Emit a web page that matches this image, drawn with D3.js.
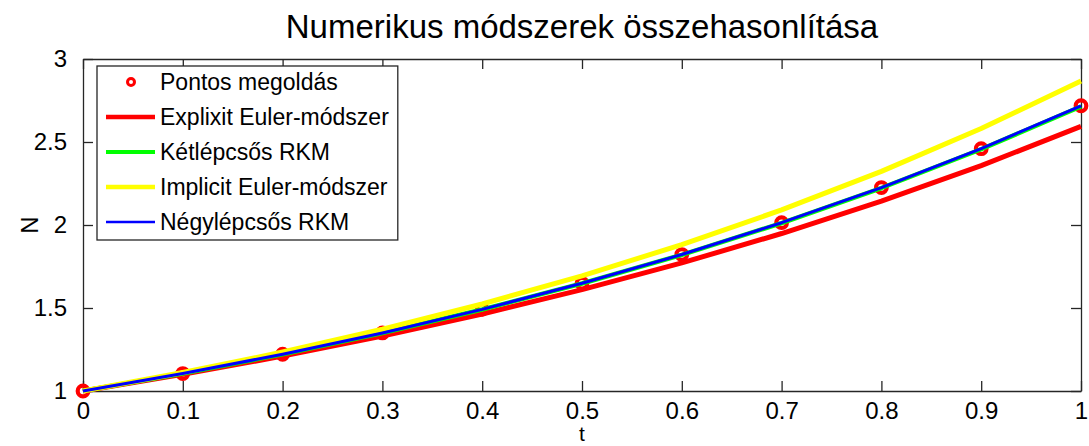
<!DOCTYPE html>
<html>
<head>
<meta charset="utf-8">
<script src="https://cdn.jsdelivr.net/npm/d3@7"></script>
<style>
  body { margin: 0; background: #ffffff; }
  svg text { font-family: "Liberation Sans", Arial, sans-serif; fill: #000000; }
</style>
</head>
<body>
<svg id="CHART" width="1089" height="446"></svg>
<script>
// Data
var tValues = [0, 0.1, 0.2, 0.3, 0.4, 0.5, 0.6, 0.7, 0.8, 0.9, 1];
var exactValues = [1, 1.1052, 1.2214, 1.3499, 1.4918, 1.6487, 1.8221, 2.0138, 2.2255, 2.4596, 2.7183];
var explicitEuler = [1, 1.1, 1.21, 1.331, 1.4641, 1.6105, 1.7716, 1.9487, 2.1436, 2.3579, 2.5937];
var rk2Values = [1, 1.105, 1.221, 1.3492, 1.4909, 1.6474, 1.8204, 2.0116, 2.2228, 2.4562, 2.7141];
var implicitEuler = [1, 1.1111, 1.2346, 1.3717, 1.5242, 1.6935, 1.8817, 2.0908, 2.3231, 2.5812, 2.868];
var rk4Values = [1, 1.1052, 1.2214, 1.3499, 1.4918, 1.6487, 1.8221, 2.0138, 2.2255, 2.4596, 2.7183];

var xTicks = [0, 0.1, 0.2, 0.3, 0.4, 0.5, 0.6, 0.7, 0.8, 0.9, 1];
var xTickLabels = ["0", "0.1", "0.2", "0.3", "0.4", "0.5", "0.6", "0.7", "0.8", "0.9", "1"];
var yTicks = [1, 1.5, 2, 2.5, 3];
var yTickLabels = ["1", "1.5", "2", "2.5", "3"];

var titleText = "Numerikus módszerek összehasonlítása";
var legendNames = ["Pontos megoldás", "Explixit Euler-módszer", "Kétlépcsős RKM", "Implicit Euler-módszer", "Négylépcsős RKM"];

let d3 = window.d3;

var width = 1089,
  height = 446;

const MARGIN = {
  LEFT: 83,
  RIGHT: 8,
  TOP: 59,
  BOTTOM: 55,
};

let svg = d3.select("#CHART");

// Scales
let xScale = d3.scaleLinear()
  .domain([0, 1])
  .range([MARGIN.LEFT, width - MARGIN.RIGHT]);

let yScale = d3.scaleLinear()
  .domain([1, 3])
  .range([height - MARGIN.BOTTOM, MARGIN.TOP]);

var axisColor = "#262626";
var tickLen = 10;

// Axes (bottom / left with labels, top / right ticks only)
let xAxis = d3.axisBottom(xScale)
  .tickValues(xTicks)
  .tickFormat((d, i) => xTickLabels[i])
  .tickSizeInner(-tickLen)
  .tickSizeOuter(0)
  .tickPadding(tickLen + 1);

let gx = svg.append("g")
  .attr("transform", "translate(0," + yScale(1) + ")")
  .call(xAxis);
gx.selectAll("text").style("font-size", "24px");

let yAxis = d3.axisLeft(yScale)
  .tickValues(yTicks)
  .tickFormat((d, i) => yTickLabels[i])
  .tickSizeInner(-tickLen)
  .tickSizeOuter(0)
  .tickPadding(tickLen + 6);

let gy = svg.append("g")
  .attr("transform", "translate(" + xScale(0) + ",0)")
  .call(yAxis);
gy.selectAll("text").style("font-size", "24px");

svg.append("g")
  .attr("transform", "translate(0," + yScale(3) + ")")
  .call(d3.axisTop(xScale).tickValues(xTicks).tickFormat("").tickSizeInner(-tickLen).tickSizeOuter(0));

svg.append("g")
  .attr("transform", "translate(" + xScale(1) + ",0)")
  .call(d3.axisRight(yScale).tickValues(yTicks).tickFormat("").tickSizeInner(-tickLen).tickSizeOuter(0));

svg.selectAll(".domain").style("stroke", axisColor).style("stroke-width", 1.3);
svg.selectAll(".tick line").style("stroke", axisColor).style("stroke-width", 1.3);

// Series
var series = [
  { name: legendNames[1], values: explicitEuler, color: "#ff0000", w: 5 },
  { name: legendNames[2], values: rk2Values, color: "#00ff00", w: 4.5 },
  { name: legendNames[3], values: implicitEuler, color: "#ffff00", w: 5 },
  { name: legendNames[4], values: rk4Values, color: "#0000ff", w: 3 },
];

// Exact solution markers
svg.append("g")
  .selectAll("circle")
  .data(exactValues)
  .enter()
  .append("circle")
  .attr("cx", (d, i) => xScale(tValues[i]))
  .attr("cy", (d) => yScale(d))
  .attr("r", 5.3)
  .attr("fill", "none")
  .attr("stroke", "#ff0000")
  .attr("stroke-width", 4.2);

let line = d3.line()
  .x((d, i) => xScale(tValues[i]))
  .y((d) => yScale(d));

series.forEach(function (s) {
  svg.append("path")
    .datum(s.values)
    .attr("d", line)
    .attr("fill", "none")
    .attr("stroke", s.color)
    .attr("stroke-width", s.w)
    .attr("stroke-linejoin", "round");
});

// Title and axis labels
svg.append("text")
  .attr("x", (xScale(0) + xScale(1)) / 2)
  .attr("y", 38)
  .style("text-anchor", "middle")
  .style("font-size", "33px")
  .text(titleText);

svg.append("text")
  .attr("x", (xScale(0) + xScale(1)) / 2)
  .attr("y", 441)
  .style("text-anchor", "middle")
  .style("font-size", "21px")
  .text("t");

svg.append("text")
  .attr("transform", "translate(38," + yScale(2) + ") rotate(-90)")
  .style("text-anchor", "middle")
  .style("font-size", "24px")
  .text("N");

// Legend
var legX = 97, legY = 66, rowH = 35, legPad = 16;
let legend = svg.append("g");
let legBox = legend.append("rect")
  .attr("x", legX)
  .attr("y", legY)
  .attr("height", 174)
  .attr("fill", "#ffffff")
  .attr("stroke", axisColor)
  .attr("stroke-width", 1.3);

var maxLen = 0;
legendNames.forEach(function (name, i) {
  var cy = legY + legPad + i * rowH;
  if (i == 0) {
    legend.append("circle")
      .attr("cx", 131)
      .attr("cy", cy)
      .attr("r", 3.5)
      .attr("fill", "none")
      .attr("stroke", "#ff0000")
      .attr("stroke-width", 3);
  } else {
    var s = series[i - 1];
    legend.append("line")
      .attr("x1", 106)
      .attr("x2", 155)
      .attr("y1", cy)
      .attr("y2", cy)
      .attr("stroke", s.color)
      .attr("stroke-width", s.w - 0.5);
  }
  var t = legend.append("text")
    .attr("x", 160)
    .attr("y", cy + 8)
    .style("font-size", "23px")
    .text(name);
  maxLen = Math.max(maxLen, t.node().getComputedTextLength());
});
legBox.attr("width", 160 + maxLen + 9 - legX);
</script>
</body>
</html>
